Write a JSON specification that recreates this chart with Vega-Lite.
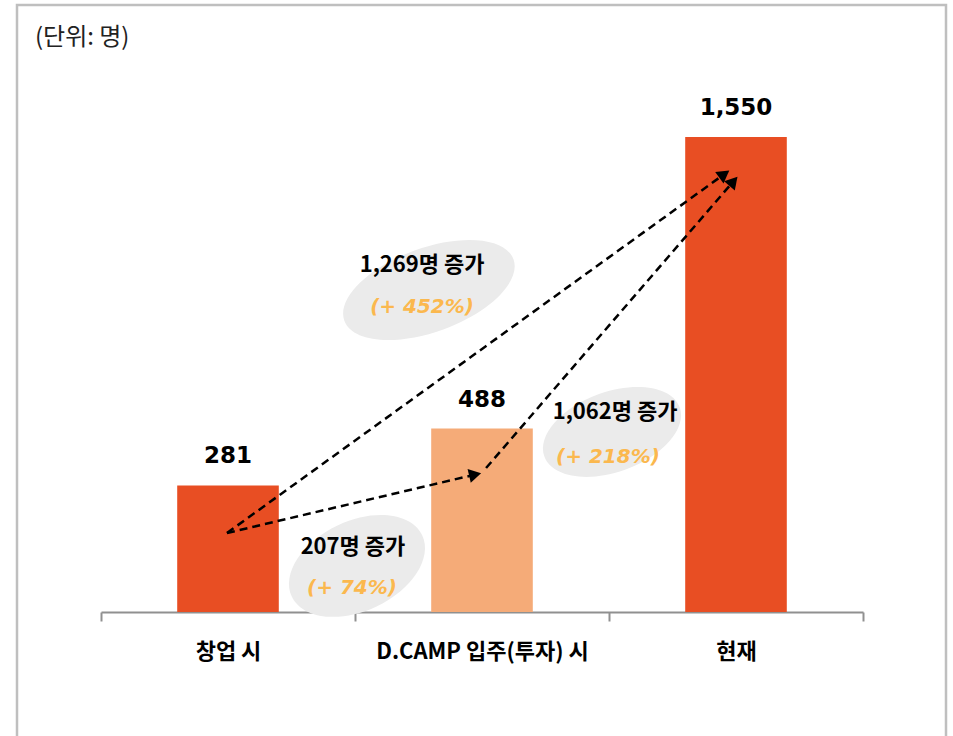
{
  "$schema": "https://vega.github.io/schema/vega-lite/v6.json",
  "autosize": {"type": "none"},
  "padding": {"left": 101, "top": 30, "right": 90, "bottom": 124},
  "width": 762,
  "height": 582,
  "background": "white",
  "config": {"view": {"stroke": null}},
  "datasets": {
    "bars": [
      {"cat": "창업 시", "value": 281},
      {"cat": "D.CAMP 입주(투자) 시", "value": 488},
      {"cat": "현재", "value": 1550}
    ],
    "arrows": [
      {"arrow": "A", "o": 0, "x": 0.496, "y": 107.8},
      {"arrow": "A", "o": 1, "x": 1.473, "y": 320.5},
      {"arrow": "B", "o": 0, "x": 0.496, "y": 107.8},
      {"arrow": "B", "o": 1, "x": 2.454, "y": 1415.1},
      {"arrow": "C", "o": 0, "x": 1.516, "y": 344.5},
      {"arrow": "C", "o": 1, "x": 2.49, "y": 1388.9}
    ],
    "heads": [
      {"arrow": "A", "x": 1.473, "y": 320.5},
      {"arrow": "B", "x": 2.454, "y": 1415.1},
      {"arrow": "C", "x": 2.49, "y": 1388.9}
    ],
    "ellipses": [
      {"id": "E1", "x": 1.291, "y": 992.9},
      {"id": "E2", "x": 2.012, "y": 475.7},
      {"id": "E3", "x": 1.008, "y": -12.4}
    ],
    "notes": [
      {"kind": "main", "label": "1,269명 증가", "x": 1.264, "y": 1084},
      {"kind": "pct", "label": "(+ 452%)", "x": 1.264, "y": 931},
      {"kind": "main", "label": "1,062명 증가", "x": 2.024, "y": 548.5},
      {"kind": "pct", "label": "(+ 218%)", "x": 1.996, "y": 384.6},
      {"kind": "main", "label": "207명 증가", "x": 0.992, "y": 56.8},
      {"kind": "pct", "label": "(+ 74%)", "x": 0.988, "y": -92.6}
    ],
    "unit": [{"label": "(단위: 명)", "x": -0.26, "y": 1910.9}],
    "frame": [{"x": -0.3307, "x2": 3.3268, "y": 2031, "y2": -665}]
  },
  "resolve": {"scale": {"x": "independent"}, "axis": {"x": "independent"}},
  "layer": [
    {
      "data": {"name": "frame"},
      "mark": {"type": "rect", "fill": null, "stroke": "#bfbfbf", "strokeWidth": 2.5},
      "encoding": {
        "x": {"field": "x", "type": "quantitative", "scale": {"domain": [0, 3], "nice": false, "zero": false}, "axis": null},
        "x2": {"field": "x2"},
        "y": {"field": "y", "type": "quantitative", "scale": {"domain": [-180, 1940], "nice": false, "zero": false}, "axis": null},
        "y2": {"field": "y2"}
      }
    },
    {
      "data": {"name": "ellipses"},
      "transform": [{"filter": "datum.id === 'E1'"}],
      "mark": {"type": "point", "filled": true, "fill": "#ebebeb", "opacity": 1, "strokeWidth": 0, "size": 32400, "angle": 340,
        "shape": "M-1,0 C-1,-0.258 -0.5523,-0.467 0,-0.467 C0.5523,-0.467 1,-0.258 1,0 C1,0.258 0.5523,0.467 0,0.467 C-0.5523,0.467 -1,0.258 -1,0 Z"},
      "encoding": {
        "x": {"field": "x", "type": "quantitative", "scale": {"domain": [0, 3], "nice": false, "zero": false}, "axis": null},
        "y": {"field": "y", "type": "quantitative", "scale": {"domain": [-180, 1940], "nice": false, "zero": false}, "axis": null}
      }
    },
    {
      "data": {"name": "ellipses"},
      "transform": [{"filter": "datum.id === 'E2'"}],
      "mark": {"type": "point", "filled": true, "fill": "#ebebeb", "opacity": 1, "strokeWidth": 0, "size": 20736, "angle": 340,
        "shape": "M-1,0 C-1,-0.307 -0.5523,-0.556 0,-0.556 C0.5523,-0.556 1,-0.307 1,0 C1,0.307 0.5523,0.556 0,0.556 C-0.5523,0.556 -1,0.307 -1,0 Z"},
      "encoding": {
        "x": {"field": "x", "type": "quantitative", "scale": {"domain": [0, 3], "nice": false, "zero": false}, "axis": null},
        "y": {"field": "y", "type": "quantitative", "scale": {"domain": [-180, 1940], "nice": false, "zero": false}, "axis": null}
      }
    },
    {
      "data": {"name": "ellipses"},
      "transform": [{"filter": "datum.id === 'E3'"}],
      "mark": {"type": "point", "filled": true, "fill": "#ebebeb", "opacity": 1, "strokeWidth": 0, "size": 20736, "angle": 335,
        "shape": "M-1,0 C-1,-0.345 -0.5523,-0.625 0,-0.625 C0.5523,-0.625 1,-0.345 1,0 C1,0.345 0.5523,0.625 0,0.625 C-0.5523,0.625 -1,0.345 -1,0 Z"},
      "encoding": {
        "x": {"field": "x", "type": "quantitative", "scale": {"domain": [0, 3], "nice": false, "zero": false}, "axis": null},
        "y": {"field": "y", "type": "quantitative", "scale": {"domain": [-180, 1940], "nice": false, "zero": false}, "axis": null}
      }
    },
    {
      "data": {"name": "bars"},
      "mark": {"type": "bar", "width": {"band": 0.4}},
      "encoding": {
        "x": {
          "field": "cat", "type": "nominal", "sort": null,
          "scale": {"paddingInner": 0, "paddingOuter": 0},
          "axis": {
            "title": null, "labelAngle": 0, "tickBand": "extent", "labelLimit": 0,
            "domainColor": "#909090", "domainWidth": 2, "tickColor": "#909090", "tickWidth": 2, "tickSize": 9,
            "labelFont": "Noto Sans CJK KR", "labelFontSize": 22, "labelFontWeight": "bold", "labelColor": "#000000",
            "labelPadding": 20
          }
        },
        "y": {"field": "value", "type": "quantitative", "scale": {"domain": [-180, 1940], "nice": false, "zero": false}, "axis": null},
        "y2": {"datum": -180},
        "color": {"field": "cat", "type": "nominal", "legend": null,
          "scale": {"domain": ["창업 시", "D.CAMP 입주(투자) 시", "현재"], "range": ["#e84e23", "#f5ab78", "#e84e23"]}}
      }
    },
    {
      "data": {"name": "bars"},
      "mark": {"type": "text", "font": "DejaVu Sans", "fontSize": 23, "fontWeight": "bold", "color": "#000000", "baseline": "middle", "dy": -29},
      "encoding": {
        "x": {"field": "cat", "type": "nominal", "sort": null, "scale": {"paddingInner": 0, "paddingOuter": 0}, "axis": null},
        "y": {"field": "value", "type": "quantitative", "scale": {"domain": [-180, 1940], "nice": false, "zero": false}, "axis": null},
        "text": {"field": "value", "type": "quantitative", "format": ","}
      }
    },
    {
      "data": {"name": "arrows"},
      "mark": {"type": "line", "color": "#000000", "strokeWidth": 2.5, "strokeDash": [8, 5]},
      "encoding": {
        "x": {"field": "x", "type": "quantitative", "scale": {"domain": [0, 3], "nice": false, "zero": false}, "axis": null},
        "y": {"field": "y", "type": "quantitative", "scale": {"domain": [-180, 1940], "nice": false, "zero": false}, "axis": null},
        "detail": {"field": "arrow"},
        "order": {"field": "o"}
      }
    },
    {
      "data": {"name": "heads"},
      "transform": [{"filter": "datum.arrow === 'A'"}],
      "mark": {"type": "point", "shape": "triangle-right", "filled": true, "color": "#000000", "opacity": 1, "size": 200, "angle": 347},
      "encoding": {
        "x": {"field": "x", "type": "quantitative", "scale": {"domain": [0, 3], "nice": false, "zero": false}, "axis": null},
        "y": {"field": "y", "type": "quantitative", "scale": {"domain": [-180, 1940], "nice": false, "zero": false}, "axis": null}
      }
    },
    {
      "data": {"name": "heads"},
      "transform": [{"filter": "datum.arrow === 'B'"}],
      "mark": {"type": "point", "shape": "triangle-right", "filled": true, "color": "#000000", "opacity": 1, "size": 200, "angle": 324},
      "encoding": {
        "x": {"field": "x", "type": "quantitative", "scale": {"domain": [0, 3], "nice": false, "zero": false}, "axis": null},
        "y": {"field": "y", "type": "quantitative", "scale": {"domain": [-180, 1940], "nice": false, "zero": false}, "axis": null}
      }
    },
    {
      "data": {"name": "heads"},
      "transform": [{"filter": "datum.arrow === 'C'"}],
      "mark": {"type": "point", "shape": "triangle-right", "filled": true, "color": "#000000", "opacity": 1, "size": 200, "angle": 311},
      "encoding": {
        "x": {"field": "x", "type": "quantitative", "scale": {"domain": [0, 3], "nice": false, "zero": false}, "axis": null},
        "y": {"field": "y", "type": "quantitative", "scale": {"domain": [-180, 1940], "nice": false, "zero": false}, "axis": null}
      }
    },
    {
      "data": {"name": "notes"},
      "transform": [{"filter": "datum.kind === 'main'"}],
      "mark": {"type": "text", "font": "Noto Sans CJK KR", "fontSize": 22, "fontWeight": "bold", "color": "#000000", "baseline": "middle", "align": "center", "letterSpacing": -0.3},
      "encoding": {
        "x": {"field": "x", "type": "quantitative", "scale": {"domain": [0, 3], "nice": false, "zero": false}, "axis": null},
        "y": {"field": "y", "type": "quantitative", "scale": {"domain": [-180, 1940], "nice": false, "zero": false}, "axis": null},
        "text": {"field": "label"}
      }
    },
    {
      "data": {"name": "notes"},
      "transform": [{"filter": "datum.kind === 'pct'"}],
      "mark": {"type": "text", "font": "DejaVu Sans", "fontSize": 20, "fontWeight": "bold", "fontStyle": "italic", "color": "#fbb84e", "baseline": "middle", "align": "center"},
      "encoding": {
        "x": {"field": "x", "type": "quantitative", "scale": {"domain": [0, 3], "nice": false, "zero": false}, "axis": null},
        "y": {"field": "y", "type": "quantitative", "scale": {"domain": [-180, 1940], "nice": false, "zero": false}, "axis": null},
        "text": {"field": "label"}
      }
    },
    {
      "data": {"name": "unit"},
      "mark": {"type": "text", "font": "Noto Sans CJK KR", "fontSize": 24, "color": "#222222", "baseline": "middle", "align": "left", "letterSpacing": 1},
      "encoding": {
        "x": {"field": "x", "type": "quantitative", "scale": {"domain": [0, 3], "nice": false, "zero": false}, "axis": null},
        "y": {"field": "y", "type": "quantitative", "scale": {"domain": [-180, 1940], "nice": false, "zero": false}, "axis": null},
        "text": {"field": "label"}
      }
    }
  ]
}
